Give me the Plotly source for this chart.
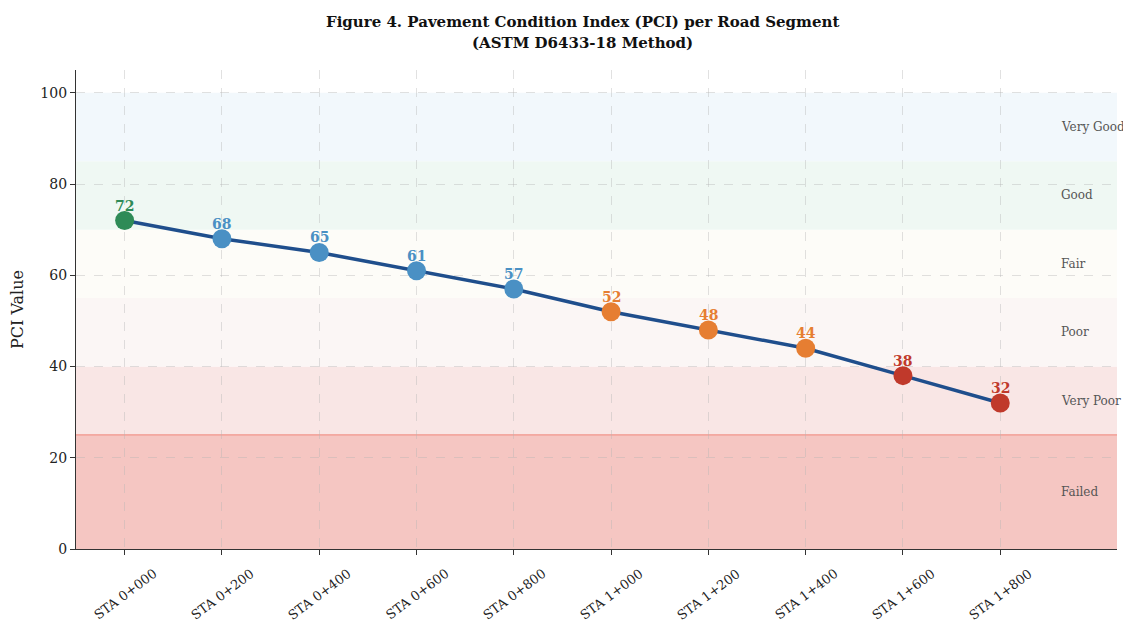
import plotly.graph_objects as go

stations = ["STA 0+000", "STA 0+200", "STA 0+400", "STA 0+600", "STA 0+800",
            "STA 1+000", "STA 1+200", "STA 1+400", "STA 1+600", "STA 1+800"]
pci = [72, 68, 65, 61, 57, 52, 48, 44, 38, 32]

band_names = ["Failed", "Very Poor", "Poor", "Fair", "Good", "Very Good"]
band_low = [0, 25, 40, 55, 70, 85]
band_high = [25, 40, 55, 70, 85, 100]
band_fill = ["#f5c6c2", "#f9e6e5", "#fbf6f5", "#fdfcf8", "#eff8f3", "#f2f8fc"]

title_lines = ["Figure 4. Pavement Condition Index (PCI) per Road Segment",
               "(ASTM D6433-18 Method)"]

def point_color(v):
    if v >= 70:
        return "#2e8b57"
    if v >= 55:
        return "#4a90c4"
    if v >= 40:
        return "#e67e32"
    return "#c0392b"

colors = [point_color(v) for v in pci]
xi = list(range(len(stations)))

PLOT_H = 479

fig = go.Figure()

for lo, hi, c in zip(band_low, band_high, band_fill):
    fig.add_shape(type="rect", xref="paper", yref="y", x0=0, x1=1, y0=lo, y1=hi,
                  fillcolor=c, line_width=0, layer="below")
fig.add_shape(type="line", xref="paper", yref="y", x0=0, x1=1, y0=25, y1=25,
              line=dict(color="#f1948a", width=1.2), layer="below")

fig.add_trace(go.Scatter(
    x=xi, y=pci, mode="lines+markers",
    line=dict(color="#1f4e8c", width=3.5),
    marker=dict(size=19, color=colors, line=dict(width=0)),
    hoverinfo="skip", showlegend=False,
))

for x, v, c in zip(xi, pci, colors):
    fig.add_annotation(x=x, y=v, text=f"<b>{v}</b>", showarrow=False,
                       yshift=15, xanchor="center", yanchor="middle",
                       font=dict(family="DejaVu Serif", size=14, color=c))

for name, lo, hi in zip(band_names, band_low, band_high):
    fig.add_annotation(x=9.6, y=(lo + hi) / 2, text=name, showarrow=False,
                       xanchor="left", yanchor="middle",
                       font=dict(family="DejaVu Serif", size=12, color="#555555"))

# rotated category labels centred under each tick
for x, s in zip(xi, stations):
    fig.add_annotation(x=x, y=0, xref="x", yref="paper", text=s, showarrow=False,
                       textangle=-37, xanchor="center", yanchor="middle", yshift=-45,
                       font=dict(family="DejaVu Serif", size=13, color="#222222"))

# title (two lines)
for line, px_above in zip(title_lines, [48, 27]):
    fig.add_annotation(
        x=0.5, y=1 + px_above / PLOT_H, xref="paper", yref="paper", showarrow=False,
        xanchor="center", yanchor="middle", xshift=-14, text=f"<b>{line}</b>",
        font=dict(family="DejaVu Serif", size=15, color="#111111"),
    )

fig.update_layout(
    width=1131, height=626,
    margin=dict(l=68, r=22, t=62, b=85, autoexpand=False),
    paper_bgcolor="white", plot_bgcolor="white",
    font=dict(family="DejaVu Serif", color="#222222"),
)
fig.update_xaxes(
    range=[-0.5, 10.2], tickmode="array", tickvals=xi, ticktext=stations,
    showticklabels=False, automargin=False,
    showline=True, linecolor="#333333", linewidth=1.2,
    ticks="outside", ticklen=5, tickcolor="#333333",
    showgrid=True, gridcolor="rgba(180,180,180,0.4)", griddash="dash", gridwidth=1,
    zeroline=False,
)
fig.update_yaxes(
    range=[0, 105], tickvals=[0, 20, 40, 60, 80, 100],
    tickfont=dict(size=14, color="#222222"), automargin=False,
    title=dict(text="PCI Value", font=dict(size=16, color="#222222"), standoff=12),
    showline=True, linecolor="#333333", linewidth=1.2,
    ticks="outside", ticklen=5, tickcolor="#333333",
    showgrid=True, gridcolor="rgba(180,180,180,0.4)", griddash="dash", gridwidth=1,
    zeroline=False,
)

fig.write_html("out.html")
